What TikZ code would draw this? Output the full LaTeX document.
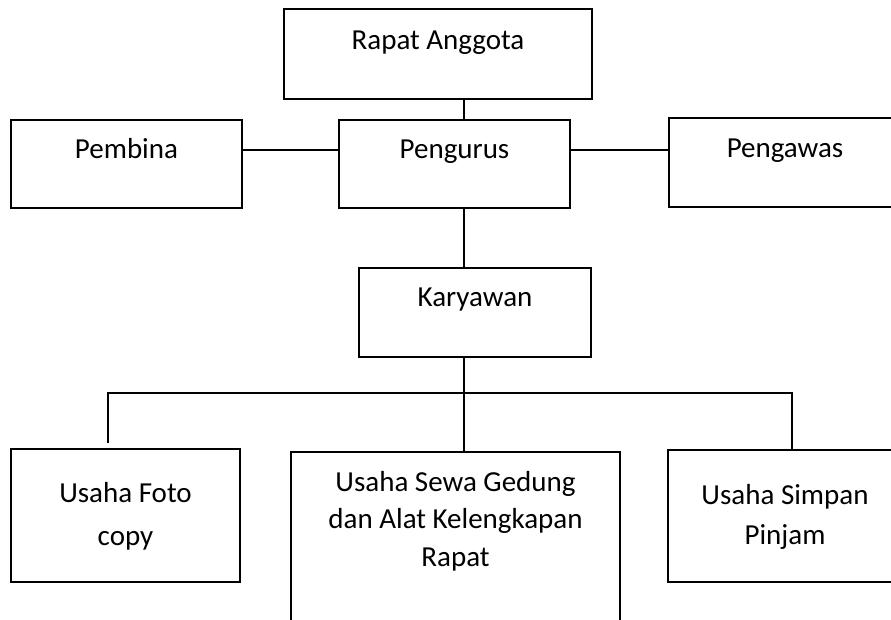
\documentclass[tikz,border=0pt]{standalone}
\usepackage{fontspec}
\setmainfont{Carlito}

\begin{document}
\begin{tikzpicture}[x=1pt, y=-1pt,
			kotak/.style={rectangle, draw, line width=1.5pt, inner sep=0pt},
			teks/.style={font=\fontsize{29}{37.5}\selectfont, align=center, inner sep=0pt, anchor=base},
			garis/.style={line width=1.5pt}
			]
			\useasboundingbox (0,0) rectangle (891,620);
			\clip (0,0) rectangle (891,620);
			
			% Rapat anggota paling atas
			\node[kotak, minimum width=308pt, minimum height=90pt] (rapat) at (438,54) {};
			\node[teks] at ([yshift=-41pt]rapat.north) {Rapat Anggota};
			
			% Baris kedua: pembina, pengurus, pengawas
			\node[kotak, minimum width=231pt, minimum height=88pt] (pembina) at (126.5,164) {};
			\node[teks] at ([yshift=-39pt]pembina.north) {Pembina};
			\node[kotak, minimum width=231pt, minimum height=88pt] (pengurus) at (454.5,164) {};
			\node[teks] at ([yshift=-39pt]pengurus.north) {Pengurus};
			\node[kotak, minimum width=232pt, minimum height=89pt] (pengawas) at (785,162.5) {};
			\node[teks] at ([yshift=-40pt]pengawas.north) {Pengawas};
			
			% Karyawan
			\node[kotak, minimum width=232pt, minimum height=89pt] (karyawan) at (475,312.5) {};
			\node[teks] at ([yshift=-39pt]karyawan.north) {Karyawan};
			
			% Unit usaha di bawah (teks diukur dari baris terakhir)
			\node[kotak, minimum width=229pt, minimum height=133pt] (foto) at (125.5,515.5) {};
			\node[teks] at ([yshift=-97pt]foto.north) {Usaha Foto\\[5.5pt]copy};
			\node[kotak, minimum width=329pt, minimum height=180pt] (sewa) at (455.5,542) {};
			\node[teks] at ([yshift=-115pt]sewa.north) {Usaha Sewa Gedung\\dan Alat Kelengkapan\\Rapat};
			\node[kotak, minimum width=234pt, minimum height=132pt] (simpan) at (785,516) {};
			\node[teks] at ([yshift=-95pt]simpan.north) {Usaha Simpan\\[2.5pt]Pinjam};
			
			% Titik bantu untuk garis
			\coordinate (batang) at (464,0);
			\coordinate (kiri) at (108,393);
			\coordinate (kanan) at (792,393);
			
			% Garis penghubung
			\draw[garis] (rapat.south -| batang) -- (pengurus.north -| batang);
			\draw[garis] ([yshift=14pt]pembina.east) -- ([yshift=14pt]pengurus.west);
			\draw[garis] ([yshift=14pt]pengurus.east) -- ([yshift=14pt]pengurus.east -| pengawas.west);
			\draw[garis] (pengurus.south -| batang) -- (karyawan.north -| batang);
			\draw[garis] (karyawan.south -| batang) -- (sewa.north -| batang);
			\draw[garis] ([yshift=5pt]foto.north -| kiri) -- (kiri) -- (kanan) -- (simpan.north -| kanan);
			
		\end{tikzpicture}
\end{document}
